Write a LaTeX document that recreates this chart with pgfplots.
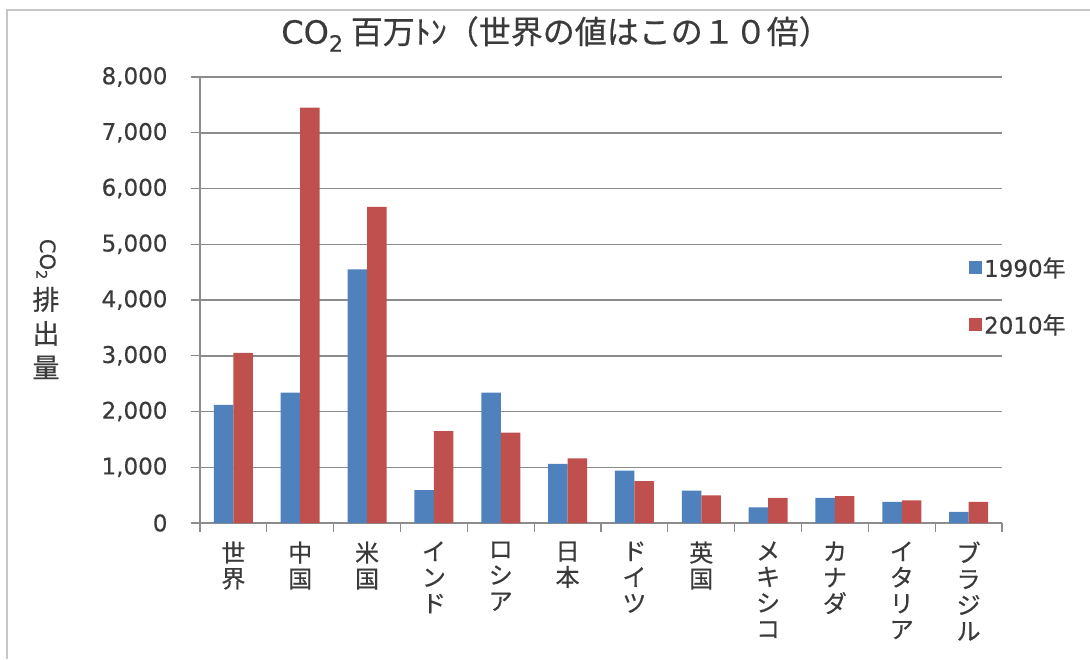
\documentclass[border=0pt]{standalone}
\usepackage{pgfplots}
\pgfplotsset{compat=1.18}
\usepackage{pgfplotstable}
\usepackage{fontspec}
\setmainfont{Noto Sans CJK JP}[RawFeature={embolden=0.5}]
\newfontfamily\numfont{DejaVu Sans}[RawFeature={embolden=0.4}]
\definecolor{barblue}{HTML}{4F81BD}
\definecolor{barred}{HTML}{C0504D}
\definecolor{gridgray}{HTML}{8C8C8C}
\definecolor{txt}{HTML}{3A3A3A}

% CO2 emissions, million t (world = value x 10)
\pgfplotstableread{
idx y1990 y2010
0   2120  3050
1   2340  7450
2   4550  5670
3   590   1650
4   2340  1620
5   1060  1160
6   940   750
7   580   495
8   280   450
9   450   480
10  380   405
11  200   380
}\co

\begin{document}
\begin{tikzpicture}
\useasboundingbox (-200pt,-136pt) rectangle (890pt,523pt);
\draw[gray!45, line width=1.5pt] (-193pt,-136pt) -- (-193pt,513pt) -- (890pt,513pt);
\begin{axis}[
  at={(0pt,0pt)}, anchor=south west,
  scale only axis, width=802pt, height=446pt,
  ybar=0pt, bar width=19.5pt,
  xmin=-0.5, xmax=11.5, ymin=0, ymax=8000,
  axis x line*=bottom, axis y line*=left,
  axis line style={gridgray, line width=1.5pt, -},
  tick align=outside, major tick length=9pt,
  tick style={gridgray, line width=1.2pt},
  xtick={-0.5,0.5,...,11.5}, xticklabels={},
  extra x ticks={0,1,...,11},
  extra x tick labels={{世\\界},{中\\国},{米\\国},{イ\\ン\\ド},{ロ\\シ\\ア},{日\\本},{ド\\イ\\ツ},{英\\国},{メ\\キ\\シ\\コ},{カ\\ナ\\ダ},{イ\\タ\\リ\\ア},{ブ\\ラ\\ジ\\ル}},
  extra x tick style={tick style={draw=none}},
  xticklabel style={align=center, anchor=north, yshift=-6pt, color=txt,
    font=\fontsize{24}{26}\selectfont},
  ytick={0,1000,...,8000},
  scaled y ticks=false,
  yticklabel style={color=txt, xshift=-20pt, font=\numfont\fontsize{23}{26}\selectfont,
    /pgf/number format/1000 sep={,}, /pgf/number format/assume math mode=true},
  ymajorgrids, grid style={gridgray, line width=1.5pt},
  title={{\numfont CO\textsubscript{2}} 百万ﾄﾝ（世界の値はこの１０倍）},
  title style={at={(0.444,1.083)}, anchor=center, color=txt,
    font=\fontsize{32}{34}\selectfont},
  legend style={draw=none, fill=none, at={(0.955,0.605)}, anchor=north west,
    font=\fontsize{23}{26}\selectfont, text=txt, row sep=32pt},
  legend cell align=left,
  legend image code/.code={\fill[#1] (0pt,-6.5pt) rectangle (13pt,6.5pt);},
]
\addplot[fill=barblue, draw=none] table[x=idx, y=y1990]{\co};
\addlegendentry{{\numfont 1990}年}
\addplot[fill=barred, draw=none] table[x=idx, y=y2010]{\co};
\addlegendentry{{\numfont 2010}年}
\end{axis}
\node[align=center, color=txt, font=\fontsize{27}{34}\selectfont] at (-154pt,214pt)
  {\rotatebox{-90}{\numfont\fontsize{21}{24}\selectfont CO\textsubscript{2}}\\[6pt]排\\出\\量};
\end{tikzpicture}
\end{document}
